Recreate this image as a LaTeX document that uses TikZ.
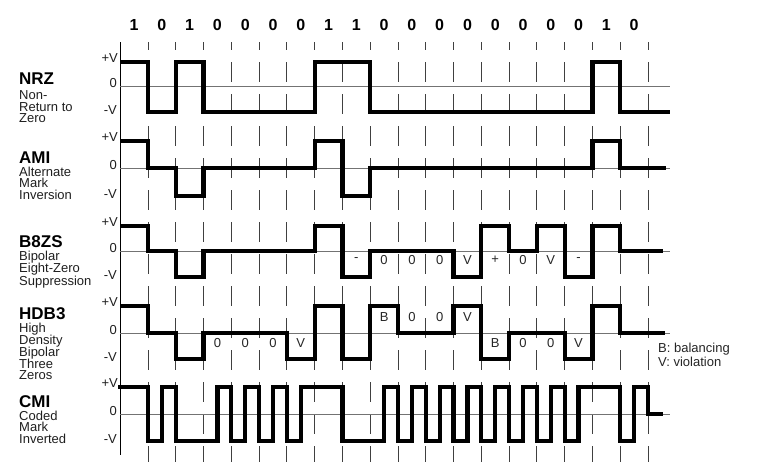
\documentclass[tikz,border=0pt]{standalone}
\usepackage{fontspec}
\setmainfont{Liberation Sans}
\begin{document}
\begin{tikzpicture}[x=1pt,y=-1pt,
  title/.style={anchor=base west, inner sep=0pt, font=\fontsize{17}{17}\selectfont\bfseries},
  sub/.style={anchor=base west, inner sep=0pt, text height=8.5pt, text depth=1.8pt, font=\fontsize{13}{12}\selectfont, text=black!88},
  lvl/.style={anchor=east, inner sep=0pt, font=\fontsize{13}{13}\selectfont, text=black!88},
  bit/.style={inner sep=0pt, font=\fontsize{16}{16}\selectfont\bfseries},
  mk/.style={inner sep=0pt, font=\fontsize{13}{13}\selectfont, text=black!85},
  leg/.style={anchor=base west, inner sep=0pt, font=\fontsize{13}{13}\selectfont, text=black!85},
  sig/.style={line width=4.3pt, line join=miter},
  zeroline/.style={line width=0.9pt, draw=black!55},
  gridline/.style={line width=0.9pt, draw=black!75, dash pattern=on 20pt off 12pt, dash phase=12pt},
]
\useasboundingbox (0,0) rectangle (768,472);
\fill[white] (0,0) rectangle (768,472);

\begin{scope}[x=27.78pt, shift={(120.2pt,0pt)}]
  % grid
  \foreach \i in {1,...,19} \draw[gridline] (\i,42) -- (\i,462);
  \draw[line width=0.9pt] (0,42) -- (0,455);
  \foreach \z in {86,168,251,333,414} \draw[zeroline] (0,\z) -- (19.8,\z);

  % NRZ
  \draw[sig] (0,62) -- (1,62) -- (1,112) -- (2,112) -- (2,62) -- (3,62) -- (3,112)
    -- (7,112) -- (7,62) -- (9,62) -- (9,112) -- (17,112) -- (17,62) -- (18,62)
    -- (18,112) -- (19.8,112);
  % AMI
  \draw[sig] (0,141) -- (1,141) -- (1,168) -- (2,168) -- (2,196) -- (3,196) -- (3,168)
    -- (7,168) -- (7,141) -- (8,141) -- (8,196) -- (9,196) -- (9,168) -- (17,168)
    -- (17,141) -- (18,141) -- (18,168) -- (19.65,168);
  % B8ZS
  \draw[sig] (0,226) -- (1,226) -- (1,251) -- (2,251) -- (2,277) -- (3,277) -- (3,251)
    -- (7,251) -- (7,226) -- (8,226) -- (8,277) -- (9,277) -- (9,251) -- (12,251)
    -- (12,277) -- (13,277) -- (13,226) -- (14,226) -- (14,251) -- (15,251) -- (15,226)
    -- (16,226) -- (16,277) -- (17,277) -- (17,226) -- (18,226) -- (18,251) -- (19.55,251);
  % HDB3
  \draw[sig] (0,306) -- (1,306) -- (1,333) -- (2,333) -- (2,359) -- (3,359) -- (3,333)
    -- (6,333) -- (6,359) -- (7,359) -- (7,306) -- (8,306) -- (8,359) -- (9,359)
    -- (9,306) -- (10,306) -- (10,333) -- (12,333) -- (12,306) -- (13,306) -- (13,359)
    -- (14,359) -- (14,333) -- (16,333) -- (16,359) -- (17,359) -- (17,306) -- (18,306)
    -- (18,333) -- (19.6,333);
  % CMI
  \draw[sig] (-0.07,387) -- (1,387) -- (1,441) -- (1.5,441) -- (1.5,387) -- (2,387)
    -- (2,441) -- (3.5,441) -- (3.5,387) -- (4,387) -- (4,441) -- (4.5,441) -- (4.5,387)
    -- (5,387) -- (5,441) -- (5.5,441) -- (5.5,387) -- (6,387) -- (6,441) -- (6.5,441)
    -- (6.5,387) -- (8,387) -- (8,441) -- (9.5,441) -- (9.5,387)
    \foreach \i in {10,...,16} { -- (\i,387) -- (\i,441) -- (\i+0.5,441) -- (\i+0.5,387) }
    -- (18,387) -- (18,441) -- (18.5,441) -- (18.5,387) -- (19,387) -- (19,414)
    -- (19.55,414);

  % bit labels
  \foreach \b [count=\k from 0] in {1,0,1,0,0,0,0,1,1,0,0,0,0,0,0,0,0,1,0}
    \node[bit] (bit\k) at (\k+0.5,25) {\b};

  % B8ZS marks
  \foreach \t/\c [count=\k] in {-/8,0/9,0/10,0/11,V/12,+/13,0/14,V/15,-/16}
    \node[mk] (bz\k) at (\c+0.5,260) {\t};
  % HDB3 marks
  \foreach \t/\c/\yy [count=\k] in {0/3/343,0/4/343,0/5/343,V/6/343,B/9/317,0/10/317,0/11/317,V/12/317,B/13/343,0/14/343,0/15/343,V/16/343}
    \node[mk] (hd\k) at (\c+0.5,\yy) {\t};
\end{scope}

% level labels
\foreach \r/\t/\z/\b in {nrz/62/86/112, ami/141/168/196, bz/226/251/277, hd/306/333/359, cmi/387/414/441} {
  \node[lvl] (\r-p) at (118,\t-3.5) {+V};
  \node[lvl] (\r-z) at (117,\z-3) {0};
  \node[lvl] (\r-m) at (117,\b-2) {-V};
}

% row titles
\node[title] (tnrz) at (19,84) {NRZ};
\node[sub] (snrz1) at (19,99) {Non-};
\node[sub] (snrz2) at (19,111) {Return to};
\node[sub] (snrz3) at (19,122.5) {Zero};

\node[title] (tami) at (19,163) {AMI};
\node[sub] (sami1) at (19,176) {Alternate};
\node[sub] (sami2) at (19,187.5) {Mark};
\node[sub] (sami3) at (19,199) {Inversion};

\node[title] (tbz) at (19,247) {B8ZS};
\node[sub] (sbz1) at (19,260) {Bipolar};
\node[sub] (sbz2) at (19,272.5) {Eight-Zero};
\node[sub] (sbz3) at (19,285) {Suppression};

\node[title] (thd) at (19,319) {HDB3};
\node[sub] (shd1) at (19,332) {High};
\node[sub] (shd2) at (19,344) {Density};
\node[sub] (shd3) at (19,356) {Bipolar};
\node[sub] (shd4) at (19,368) {Three};
\node[sub] (shd5) at (19,379.5) {Zeros};

\node[title] (tcmi) at (19,407.5) {CMI};
\node[sub] (scmi1) at (19,420) {Coded};
\node[sub] (scmi2) at (19,431.7) {Mark};
\node[sub] (scmi3) at (19,443.4) {Inverted};

% legend
\node[leg] (legB) at (658,352) {B: balancing};
\node[leg] (legV) at (658,366) {V: violation};
\end{tikzpicture}
\end{document}
